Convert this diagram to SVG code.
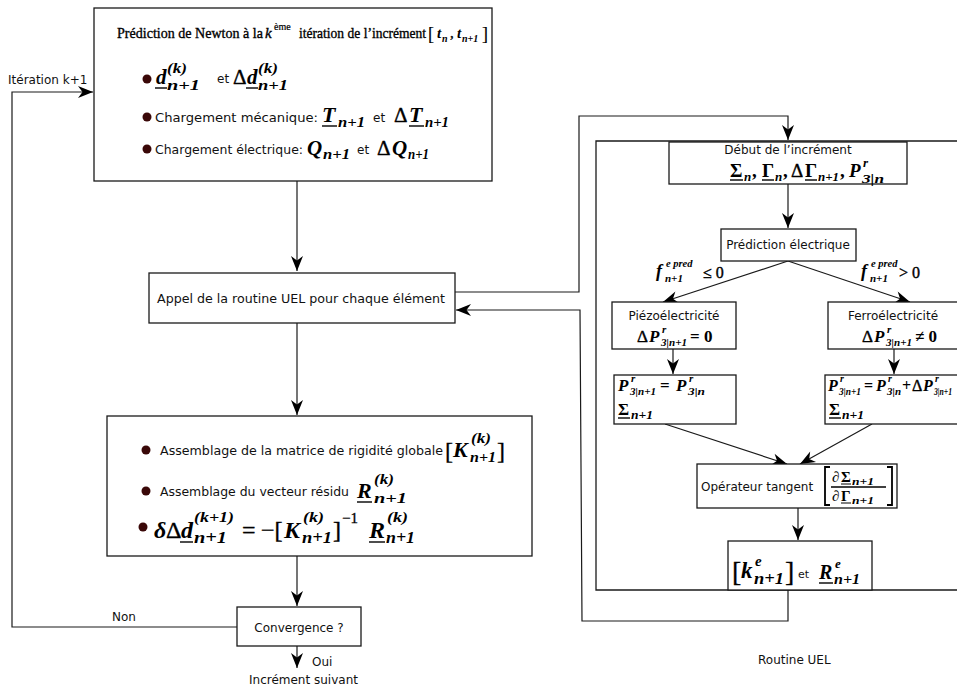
<svg xmlns="http://www.w3.org/2000/svg" width="957" height="689" viewBox="0 0 957 689">
<style>
.box{fill:#fff;stroke:#1a1a1a;stroke-width:1.3}
.ln{fill:none;stroke:#1a1a1a;stroke-width:1.2}
.t{font-family:"DejaVu Sans",sans-serif;fill:#111}
.ti{font-family:"Liberation Serif","DejaVu Serif",serif;fill:#000;stroke:#000;stroke-width:0.35}
.m{font-family:"Liberation Serif","DejaVu Serif",serif;font-style:italic;font-weight:bold;fill:#000}
.mr{font-family:"Liberation Serif","DejaVu Serif",serif;font-weight:bold;fill:#000}
.mn{font-family:"Liberation Serif","DejaVu Serif",serif;fill:#000;stroke:#000;stroke-width:0.4}
.bu{fill:#3a0808}
.ul{stroke:#000;stroke-width:1.4}
</style>
<defs>
<marker id="ah" viewBox="-16 -7 17 14" refX="0" refY="0" markerWidth="17" markerHeight="14" markerUnits="userSpaceOnUse" orient="auto">
<path d="M0,0 L-15,-6 L-10.5,0 L-15,6 Z" fill="#000"/>
</marker>
</defs>

<g id="connectors">
<polyline class="ln" points="237,627 12,627 12,92 93,92" marker-end="url(#ah)"/>
<line class="ln" x1="297" y1="181" x2="297" y2="271" marker-end="url(#ah)"/>
<line class="ln" x1="297" y1="323" x2="297" y2="415" marker-end="url(#ah)"/>
<line class="ln" x1="297" y1="556" x2="297" y2="606" marker-end="url(#ah)"/>
<line class="ln" x1="297" y1="646" x2="297" y2="668" marker-end="url(#ah)"/>
<polyline class="ln" points="455,292 579,292 579,116 788,116 788,140" marker-end="url(#ah)"/>
<polyline class="ln" points="788,590 788,621 582,621 580,310 456,310" marker-end="url(#ah)"/>
<line class="ln" x1="788" y1="184" x2="788" y2="228" marker-end="url(#ah)"/>
<line class="ln" x1="788" y1="261" x2="663" y2="302" marker-end="url(#ah)"/>
<line class="ln" x1="788" y1="261" x2="910" y2="302" marker-end="url(#ah)"/>
<line class="ln" x1="673" y1="349" x2="673" y2="374" marker-end="url(#ah)"/>
<line class="ln" x1="894" y1="349" x2="894" y2="374" marker-end="url(#ah)"/>
<line class="ln" x1="665" y1="424" x2="787" y2="464" marker-end="url(#ah)"/>
<line class="ln" x1="872" y1="424" x2="800" y2="464" marker-end="url(#ah)"/>
<line class="ln" x1="798" y1="508" x2="798" y2="540" marker-end="url(#ah)"/>
</g>

<g id="labels">
<text class="t" x="8" y="84" font-size="12">Itération k+1</text>
<text class="t" x="112" y="621" font-size="12">Non</text>
<text class="t" x="312" y="666" font-size="12">Oui</text>
<text class="t" x="249" y="684" font-size="12">Incrément suivant</text>
<text class="t" x="758" y="664" font-size="12">Routine UEL</text>
<g id="cond-left">
<text class="m" x="656" y="277" font-size="18">f</text>
<text class="m" x="666" y="267" font-size="10.5">e pred</text>
<text class="m" x="665" y="282" font-size="11">n+1</text>
<text class="mn" x="703" y="278" font-size="16">≤ 0</text>
</g>
<g id="cond-right">
<text class="m" x="861" y="277" font-size="18">f</text>
<text class="m" x="871" y="267" font-size="10.5">e pred</text>
<text class="m" x="870" y="282" font-size="11">n+1</text>
<text class="mn" x="899" y="278" font-size="16">&gt; 0</text>
</g>
</g>

<polyline id="uel-frame" class="ln" style="stroke-width:1.3" points="957,141 596,141 596,590 957,590"/>

<g id="newton">
<rect class="box" x="94" y="8" width="398" height="173"/>
<text class="ti" x="117" y="38" font-size="15" textLength="146" lengthAdjust="spacingAndGlyphs">Prédiction de Newton à la</text>
<text class="ti" x="265" y="38" font-size="15" font-style="italic">k</text>
<text class="ti" x="274" y="30" font-size="10" style="stroke-width:0.2">ème</text>
<text class="ti" x="299" y="38" font-size="15" textLength="127" lengthAdjust="spacingAndGlyphs">itération de l’incrément</text>
<text class="mn" x="428" y="40" font-size="18" style="stroke-width:0.2">[</text>
<text class="m" x="437" y="38" font-size="15">t</text>
<text class="m" x="442" y="42" font-size="10">n</text>
<text class="ti" x="450" y="38" font-size="15">,</text>
<text class="m" x="457" y="38" font-size="15">t</text>
<text class="m" x="462" y="42" font-size="10">n+1</text>
<text class="mn" x="482" y="40" font-size="18" style="stroke-width:0.2">]</text>

<circle class="bu" cx="147" cy="79" r="4.5"/>
<text class="m" x="156" y="84" font-size="21">d</text>
<line class="ul" x1="155" y1="88" x2="167" y2="88"/>
<text class="m" x="167" y="73" font-size="14" textLength="20" lengthAdjust="spacingAndGlyphs">(k)</text>
<text class="m" x="167" y="90" font-size="15" textLength="33" lengthAdjust="spacingAndGlyphs">n+1</text>
<text class="t" x="217" y="83" font-size="12">et</text>
<text class="mn" x="233" y="84" font-size="21">Δ</text>
<text class="m" x="247" y="84" font-size="21">d</text>
<line class="ul" x1="246" y1="88" x2="258" y2="88"/>
<text class="m" x="258" y="73" font-size="14" textLength="20" lengthAdjust="spacingAndGlyphs">(k)</text>
<text class="m" x="258" y="90" font-size="15" textLength="30" lengthAdjust="spacingAndGlyphs">n+1</text>

<circle class="bu" cx="147" cy="117" r="4.5"/>
<text class="t" x="155" y="122" font-size="13" textLength="163" lengthAdjust="spacingAndGlyphs">Chargement mécanique:</text>
<text class="m" x="322" y="122" font-size="22">T</text>
<line class="ul" x1="322" y1="126" x2="337" y2="126"/>
<text class="m" x="338" y="127" font-size="15" textLength="27" lengthAdjust="spacingAndGlyphs">n+1</text>
<text class="t" x="373" y="122" font-size="12">et</text>
<text class="mn" x="394" y="122" font-size="21">Δ</text>
<text class="m" x="409" y="122" font-size="22">T</text>
<line class="ul" x1="409" y1="126" x2="424" y2="126"/>
<text class="m" x="425" y="127" font-size="15" textLength="24" lengthAdjust="spacingAndGlyphs">n+1</text>

<circle class="bu" cx="147" cy="149" r="4.5"/>
<text class="t" x="155" y="154" font-size="13" textLength="148" lengthAdjust="spacingAndGlyphs">Chargement électrique:</text>
<text class="m" x="307" y="155" font-size="21">Q</text>
<text class="m" x="323" y="159" font-size="15" textLength="27" lengthAdjust="spacingAndGlyphs">n+1</text>
<text class="t" x="357" y="154" font-size="12">et</text>
<text class="mn" x="377" y="155" font-size="21">Δ</text>
<text class="m" x="392" y="155" font-size="21">Q</text>
<text class="m" x="408" y="159" font-size="15" textLength="21" lengthAdjust="spacingAndGlyphs">n+1</text>
</g>

<g id="appel">
<rect class="box" x="149" y="273" width="306" height="50"/>
<text class="t" x="157" y="303" font-size="12.5" textLength="288" lengthAdjust="spacingAndGlyphs">Appel de la routine UEL pour chaque élément</text>
</g>

<g id="assemblage">
<rect class="box" x="107" y="416" width="425" height="140"/>
<circle class="bu" cx="146" cy="450" r="4.5"/>
<text class="t" x="160" y="455" font-size="12.5" textLength="283" lengthAdjust="spacingAndGlyphs">Assemblage de la matrice de rigidité globale</text>
<text class="mn" x="445" y="459" font-size="24" style="stroke-width:0.3">[</text>
<text class="m" x="453" y="457" font-size="22">K</text>
<text class="m" x="471" y="443" font-size="14" textLength="20" lengthAdjust="spacingAndGlyphs">(k)</text>
<text class="m" x="470" y="462" font-size="14" textLength="26" lengthAdjust="spacingAndGlyphs">n+1</text>
<text class="mn" x="497" y="459" font-size="24" style="stroke-width:0.3">]</text>

<circle class="bu" cx="146" cy="491" r="4.5"/>
<text class="t" x="160" y="496" font-size="12.5" textLength="189" lengthAdjust="spacingAndGlyphs">Assemblage du vecteur résidu</text>
<text class="m" x="357" y="498" font-size="22">R</text>
<line class="ul" x1="357" y1="502" x2="372" y2="502"/>
<text class="m" x="374" y="484" font-size="14" textLength="20" lengthAdjust="spacingAndGlyphs">(k)</text>
<text class="m" x="374" y="503" font-size="15" textLength="33" lengthAdjust="spacingAndGlyphs">n+1</text>

<circle class="bu" cx="143" cy="527" r="4.5"/>
<text class="m" x="154" y="538" font-size="24">δ</text>
<text class="mn" x="166" y="538" font-size="24">Δ</text>
<text class="m" x="181" y="538" font-size="24">d</text>
<line class="ul" x1="180" y1="542" x2="193" y2="542"/>
<text class="m" x="194" y="522" font-size="15" textLength="40" lengthAdjust="spacingAndGlyphs">(k+1)</text>
<text class="m" x="194" y="543" font-size="16" textLength="33" lengthAdjust="spacingAndGlyphs">n+1</text>
<text class="mn" x="242" y="538" font-size="24">=</text>
<text class="mn" x="261" y="538" font-size="24">−[</text>
<text class="m" x="284" y="538" font-size="24">K</text>
<text class="m" x="303" y="522" font-size="15" textLength="21" lengthAdjust="spacingAndGlyphs">(k)</text>
<text class="m" x="302" y="543" font-size="16" textLength="30" lengthAdjust="spacingAndGlyphs">n+1</text>
<text class="mn" x="333" y="538" font-size="24">]</text>
<text class="mn" x="342" y="523" font-size="15" style="stroke-width:0.3">−1</text>
<text class="m" x="369" y="538" font-size="24">R</text>
<line class="ul" x1="369" y1="542" x2="385" y2="542"/>
<text class="m" x="387" y="522" font-size="15" textLength="21" lengthAdjust="spacingAndGlyphs">(k)</text>
<text class="m" x="386" y="543" font-size="16" textLength="29" lengthAdjust="spacingAndGlyphs">n+1</text>
</g>

<g id="convergence">
<rect class="box" x="237" y="607" width="124" height="39"/>
<text class="t" x="299" y="632" font-size="12" text-anchor="middle">Convergence ?</text>
</g>

<g id="debut">
<rect class="box" x="669" y="142" width="238" height="42"/>
<text class="t" x="788" y="154" font-size="12" text-anchor="middle">Début de l’incrément</text>
<text class="mr" x="730" y="177" font-size="19">Σ</text>
<line class="ul" x1="730" y1="180" x2="743" y2="180"/>
<text class="m" x="744" y="181" font-size="13">n</text>
<text class="mr" x="752" y="177" font-size="19">,</text>
<text class="mr" x="762" y="177" font-size="19">Γ</text>
<line class="ul" x1="762" y1="180" x2="774" y2="180"/>
<text class="m" x="775" y="181" font-size="13">n</text>
<text class="mr" x="783" y="177" font-size="19">,</text>
<text class="mn" x="791" y="177" font-size="19">Δ</text>
<text class="mr" x="805" y="177" font-size="19">Γ</text>
<line class="ul" x1="805" y1="180" x2="817" y2="180"/>
<text class="m" x="818" y="181" font-size="13" textLength="21" lengthAdjust="spacingAndGlyphs">n+1</text>
<text class="mr" x="840" y="177" font-size="19">,</text>
<text class="m" x="849" y="177" font-size="19">P</text>
<text class="m" x="863" y="167" font-size="13">r</text>
<text class="m" x="862" y="183" font-size="13" textLength="22" lengthAdjust="spacingAndGlyphs">3|n</text>
</g>

<g id="prediction">
<rect class="box" x="721" y="229" width="135" height="32"/>
<text class="t" x="788" y="249" font-size="12" text-anchor="middle">Prédiction électrique</text>
</g>

<g id="piezo">
<rect class="box" x="612" y="302" width="124" height="47"/>
<text class="t" x="674" y="320" font-size="12" text-anchor="middle">Piézoélectricité</text>
<text class="mn" x="637" y="342" font-size="17">Δ</text>
<text class="m" x="649" y="342" font-size="17">P</text>
<text class="m" x="662" y="333" font-size="11">r</text>
<text class="m" x="661" y="346" font-size="11" textLength="26" lengthAdjust="spacingAndGlyphs">3|n+1</text>
<text class="mr" x="690" y="342" font-size="17">= 0</text>
</g>

<g id="ferro">
<rect class="box" x="828" y="302" width="135" height="47"/>
<text class="t" x="893" y="320" font-size="12" text-anchor="middle">Ferroélectricité</text>
<text class="mn" x="862" y="342" font-size="17">Δ</text>
<text class="m" x="874" y="342" font-size="17">P</text>
<text class="m" x="887" y="333" font-size="11">r</text>
<text class="m" x="886" y="346" font-size="11" textLength="26" lengthAdjust="spacingAndGlyphs">3|n+1</text>
<text class="mr" x="915" y="342" font-size="17">≠ 0</text>
</g>

<g id="piezo-result">
<rect class="box" x="614" y="375" width="122" height="49"/>
<text class="m" x="618" y="391" font-size="17">P</text>
<text class="m" x="631" y="382" font-size="11">r</text>
<text class="m" x="630" y="395" font-size="11" textLength="26" lengthAdjust="spacingAndGlyphs">3|n+1</text>
<text class="mr" x="660" y="391" font-size="17">=</text>
<text class="m" x="676" y="391" font-size="17">P</text>
<text class="m" x="689" y="382" font-size="11">r</text>
<text class="m" x="688" y="395" font-size="11" textLength="17" lengthAdjust="spacingAndGlyphs">3|n</text>
<text class="mr" x="618" y="415" font-size="17">Σ</text>
<line class="ul" x1="618" y1="418" x2="630" y2="418"/>
<text class="m" x="631" y="419" font-size="12" textLength="22" lengthAdjust="spacingAndGlyphs">n+1</text>
</g>

<g id="ferro-result">
<rect class="box" x="825" y="375" width="138" height="49"/>
<text class="m" x="828" y="391" font-size="16">P</text>
<text class="m" x="840" y="382" font-size="10">r</text>
<text class="m" x="839" y="395" font-size="10" textLength="22" lengthAdjust="spacingAndGlyphs">3|n+1</text>
<text class="mr" x="864" y="391" font-size="16">=</text>
<text class="m" x="876" y="391" font-size="16">P</text>
<text class="m" x="888" y="382" font-size="10">r</text>
<text class="m" x="887" y="395" font-size="10" textLength="14" lengthAdjust="spacingAndGlyphs">3|n</text>
<text class="mr" x="902" y="391" font-size="16">+</text>
<text class="mn" x="912" y="391" font-size="16">Δ</text>
<text class="m" x="923" y="391" font-size="16">P</text>
<text class="m" x="935" y="382" font-size="10">r</text>
<text class="m" x="934" y="395" font-size="10" textLength="18" lengthAdjust="spacingAndGlyphs">3|n+1</text>
<text class="mr" x="829" y="415" font-size="17">Σ</text>
<line class="ul" x1="829" y1="418" x2="841" y2="418"/>
<text class="m" x="842" y="419" font-size="12" textLength="22" lengthAdjust="spacingAndGlyphs">n+1</text>
</g>

<g id="tangent">
<rect class="box" x="697" y="464" width="200" height="44"/>
<text class="t" x="701" y="491" font-size="12">Opérateur tangent</text>
<polyline class="ln" style="stroke:#000;stroke-width:1.8" points="830,467 825,467 825,505 830,505"/>
<polyline class="ln" style="stroke:#000;stroke-width:1.8" points="887,467 892,467 892,505 887,505"/>
<text class="m" x="832" y="482" font-size="15">∂</text>
<text class="mr" x="841" y="482" font-size="15">Σ</text>
<line class="ul" x1="841" y1="484" x2="851" y2="484" style="stroke-width:1"/>
<text class="m" x="852" y="485" font-size="11" textLength="22" lengthAdjust="spacingAndGlyphs">n+1</text>
<line class="ul" x1="831" y1="487" x2="886" y2="487"/>
<text class="m" x="832" y="501" font-size="15">∂</text>
<text class="mr" x="841" y="501" font-size="15">Γ</text>
<line class="ul" x1="841" y1="503" x2="851" y2="503" style="stroke-width:1"/>
<text class="m" x="852" y="504" font-size="11" textLength="22" lengthAdjust="spacingAndGlyphs">n+1</text>
</g>

<g id="element">
<rect class="box" x="728" y="541" width="144" height="49"/>
<text class="mn" x="732" y="581" font-size="28" style="stroke-width:0.3">[</text>
<text class="m" x="741" y="578" font-size="23">k</text>
<text class="m" x="755" y="566" font-size="15">e</text>
<text class="m" x="754" y="584" font-size="16" textLength="30" lengthAdjust="spacingAndGlyphs">n+1</text>
<text class="mn" x="785" y="581" font-size="28" style="stroke-width:0.3">]</text>
<text class="t" x="798" y="578" font-size="11">et</text>
<text class="m" x="819" y="579" font-size="20">R</text>
<line class="ul" x1="819" y1="583" x2="833" y2="583"/>
<text class="m" x="835" y="568" font-size="13">e</text>
<text class="m" x="834" y="584" font-size="14" textLength="26" lengthAdjust="spacingAndGlyphs">n+1</text>
</g>
</svg>
